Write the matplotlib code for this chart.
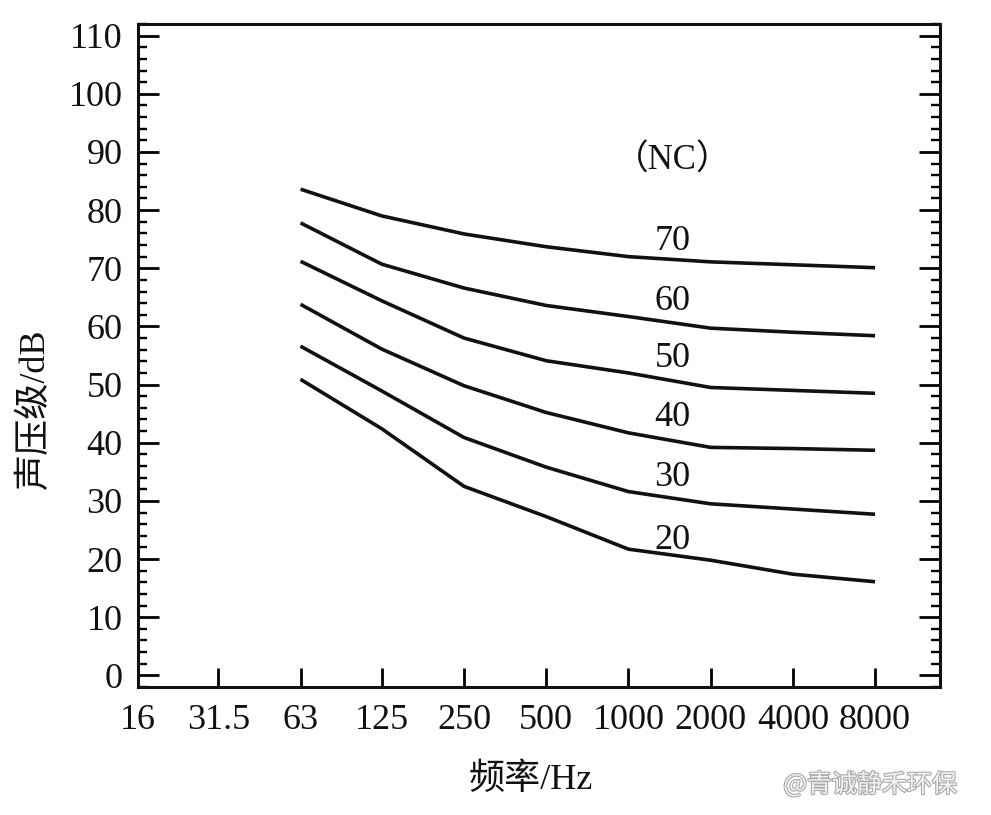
import matplotlib
matplotlib.use('Agg')
import matplotlib.pyplot as plt
from matplotlib.ticker import FixedLocator, MultipleLocator, NullLocator, FixedFormatter
import matplotlib.patheffects as pe

# ---- data ----
freqs = [63, 125, 250, 500, 1000, 2000, 4000, 8000]
nc70 = [83.6, 79.0, 75.9, 73.7, 72.0, 71.1, 70.6, 70.1]
nc60 = [77.8, 70.7, 66.6, 63.6, 61.7, 59.7, 59.0, 58.4]
nc50 = [71.2, 64.4, 58.0, 54.1, 52.0, 49.5, 49.0, 48.5]
nc40 = [63.8, 56.1, 49.8, 45.2, 41.7, 39.2, 39.0, 38.7]
nc30 = [56.6, 48.9, 40.9, 35.8, 31.6, 29.5, 28.6, 27.7]
nc20 = [50.9, 42.4, 32.5, 27.3, 21.7, 19.8, 17.4, 16.1]
curve_names = ['70', '60', '50', '40', '30', '20']
label_levels = [74.6, 64.3, 54.4, 44.4, 34.0, 23.2]
label_freq = 1450
tick_freqs = [16, 31.5, 63, 125, 250, 500, 1000, 2000, 4000, 8000]
tick_labels = ['16', '31.5', '63', '125', '250', '500', '1000', '2000', '4000', '8000']
y_ticks = list(range(0, 111, 10))

SERIF = ['Liberation Serif', 'Noto Sans CJK SC']
CJK = ['Noto Sans CJK SC', 'Liberation Serif']
INK = '#111111'
FS = 26

fig = plt.figure(figsize=(9.91, 8.15), dpi=100)
ax = fig.add_axes([138 / 991, 1 - 687 / 815, 802 / 991, 663 / 815])

series = [nc70, nc60, nc50, nc40, nc30, nc20]
for vals in series:
    ax.plot(freqs, vals, color=INK, lw=2.6, solid_capstyle='butt',
            solid_joinstyle='round')

for name, lv in zip(curve_names, label_levels):
    ax.text(label_freq, lv, name, ha='center', va='center', fontsize=FS,
            family=SERIF, color=INK)
ax.text(label_freq, 88.5, '（NC）', ha='center', va='center', fontsize=25,
        family=SERIF, color=INK)

ax.set_xscale('log', base=2)
ax.set_xlim(16, 8000 * 2 ** 0.79)
ax.set_ylim(-2, 112)

ax.xaxis.set_major_locator(FixedLocator(tick_freqs))
ax.xaxis.set_major_formatter(FixedFormatter(tick_labels))
ax.xaxis.set_minor_locator(NullLocator())
ax.yaxis.set_major_locator(FixedLocator(y_ticks))
ax.yaxis.set_minor_locator(MultipleLocator(2))

ax.tick_params(axis='x', which='major', direction='in', length=14, width=2.0,
               top=False, bottom=True, pad=12, labelsize=FS)
ax.tick_params(axis='y', which='major', direction='in', length=15, width=2.0,
               left=True, right=True, pad=11, labelsize=FS)
ax.tick_params(axis='y', which='minor', direction='in', length=6.5, width=1.7,
               left=True, right=True)
for lab in ax.get_xticklabels() + ax.get_yticklabels():
    lab.set_family(SERIF)
    lab.set_color(INK)

for sp in ax.spines.values():
    sp.set_linewidth(2.2)
    sp.set_color(INK)

ax.set_xlabel('频率/Hz', fontsize=FS, family=SERIF, color=INK)
ax.xaxis.set_label_coords(0.49, -0.115)
ax.set_ylabel('声压级/dB', fontsize=FS, family=SERIF, color=INK)
ax.yaxis.set_label_coords(-0.108, 0.42)

fig.text(0.878, 1 - 785 / 815, '@青诚静禾环保', ha='center', va='center',
         fontsize=18, family=CJK, color='#f2f2f2',
         path_effects=[pe.withStroke(linewidth=1.6, foreground='#aaaaaa')])

fig.savefig('out.png', dpi=100)
